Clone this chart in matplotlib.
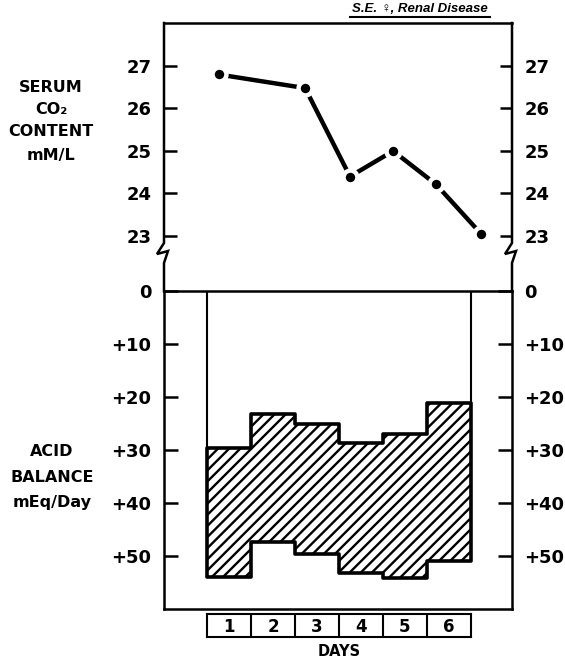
import matplotlib.pyplot as plt
import matplotlib.transforms as mtransforms
import numpy as np

plt.rcParams['font.family'] = ['DejaVu Sans']
plt.rcParams['hatch.linewidth'] = 1.7

# data
days = [1, 2, 3, 4, 5, 6]
day_labels = ['1', '2', '3', '4', '5', '6']
co2_time = [0.27, 2.23, 3.25, 4.23, 5.2, 6.23]   # in day units, 0 = start of day 1
co2_content = [26.8, 26.48, 24.4, 25.0, 24.22, 23.05]
acid_top = [29.6, 23.2, 25.1, 28.7, 27.0, 21.1]
acid_bottom = [54.0, 47.4, 49.6, 53.2, 54.2, 51.0]
co2_ticks = [23, 24, 25, 26, 27]
acid_ticks = [0, 10, 20, 30, 40, 50]
acid_ticklabels = ['0', '+10', '+20', '+30', '+40', '+50']

fig = plt.figure(figsize=(5.65, 6.58), dpi=100)
W, H = 565, 658


def px_box(x0, y0, x1, y1):
    return [x0 / W, 1 - y1 / H, (x1 - x0) / W, (y1 - y0) / H]


xlim = ((164 - 207) / 44, (512 - 207) / 44)
lw = 1.8

# ---- top panel: serum CO2 ----
ax1 = fig.add_axes(px_box(164, 23, 512, 291))
ax1.set_xlim(*xlim)
ax1.set_ylim(27 - (291 - 66) / 42.5, 27 + (66 - 23) / 42.5)
for s in ['left', 'right', 'bottom']:
    ax1.spines[s].set_visible(False)
ax1.spines['top'].set_linewidth(lw)
ax1.plot(co2_time, co2_content, color='black', lw=3.2, marker='o', markersize=10,
         markerfacecolor='black', markeredgecolor='white', markeredgewidth=3.2,
         solid_capstyle='butt', zorder=3)
ax1.set_xticks([])
ax1.set_yticks(co2_ticks)
ax1.tick_params(axis='y', direction='in', length=9, width=lw, labelsize=13,
                left=True, right=True, labelleft=True, labelright=True, pad=9)
for t in ax1.get_yticklabels():
    t.set_fontweight('bold')

# axis lines with break marks
trans = mtransforms.blended_transform_factory(ax1.transAxes, ax1.transData)
ylo = ax1.get_ylim()[0]
ytop = ax1.get_ylim()[1]
brk_y = [ytop, 22.835, 22.576, 22.647, 22.365, ylo]
brk_dx = [0, 0, -7, 4, 0, 0]
for xa in (0, 1):
    xs = [xa + d / 348 for d in brk_dx]
    ax1.plot(xs, brk_y, color='black', lw=lw, transform=trans, clip_on=False,
             solid_joinstyle='miter')

# ---- bottom panel: acid balance ----
ax2 = fig.add_axes(px_box(164, 291, 512, 609))
ax2.set_xlim(*xlim)
ax2.set_ylim(60.0, 0)
for s in ax2.spines.values():
    s.set_linewidth(lw)
edges = np.arange(0, len(days) + 1)
ax2.fill_between(edges, acid_top + [acid_top[-1]], acid_bottom + [acid_bottom[-1]],
                 step='post', facecolor='white', edgecolor='black', hatch='///',
                 linewidth=2.6, zorder=2)
ax2.plot([0, 0], [0, acid_top[0]], color='black', lw=1.5)
ax2.plot([6, 6], [0, acid_top[-1]], color='black', lw=1.5)
ax2.set_xticks([])
ax2.set_yticks(acid_ticks)
ax2.set_yticklabels(acid_ticklabels)
ax2.tick_params(axis='y', direction='in', length=10, width=lw, labelsize=13,
                left=True, right=True, labelleft=True, labelright=True, pad=9)
for t in ax2.get_yticklabels():
    t.set_fontweight('bold')

# ---- day boxes ----
ax3 = fig.add_axes(px_box(207, 614, 471, 637))
ax3.set_xlim(0, len(days))
ax3.set_ylim(0, 1)
ax3.set_xticks([])
ax3.set_yticks([])
for s in ax3.spines.values():
    s.set_linewidth(1.5)
for i in range(1, len(days)):
    ax3.axvline(i, color='black', lw=1.5)
for i, lab in enumerate(day_labels):
    ax3.text(i + 0.5, 0.45, lab, ha='center', va='center', fontsize=12, fontweight='bold')
fig.text(339 / W, 1 - 651 / H, 'DAYS', ha='center', va='center', fontsize=10.5,
         fontweight='bold')

# ---- axis titles ----
for txt, y in [('SERUM', 88), ('CO₂', 110), ('CONTENT', 132), ('mM/L', 155)]:
    fig.text(51 / W, 1 - y / H, txt, ha='center', va='center', fontsize=11.5,
             fontweight='bold')
for txt, y in [('ACID', 452), ('BALANCE', 477), ('mEq/Day', 503)]:
    fig.text(52 / W, 1 - y / H, txt, ha='center', va='center', fontsize=11.5,
             fontweight='bold')

# ---- case label ----
fig.text(420 / W, 1 - 9 / H, 'S.E. ♀, Renal Disease', ha='center', va='center',
         fontsize=9.5, fontweight='bold', style='italic',
         family=['Liberation Sans', 'DejaVu Sans'])
fig.add_artist(plt.Line2D([350 / W, 490 / W], [1 - 17 / H, 1 - 17 / H],
                          color='black', lw=1.5))

fig.savefig('out.png', dpi=100)
